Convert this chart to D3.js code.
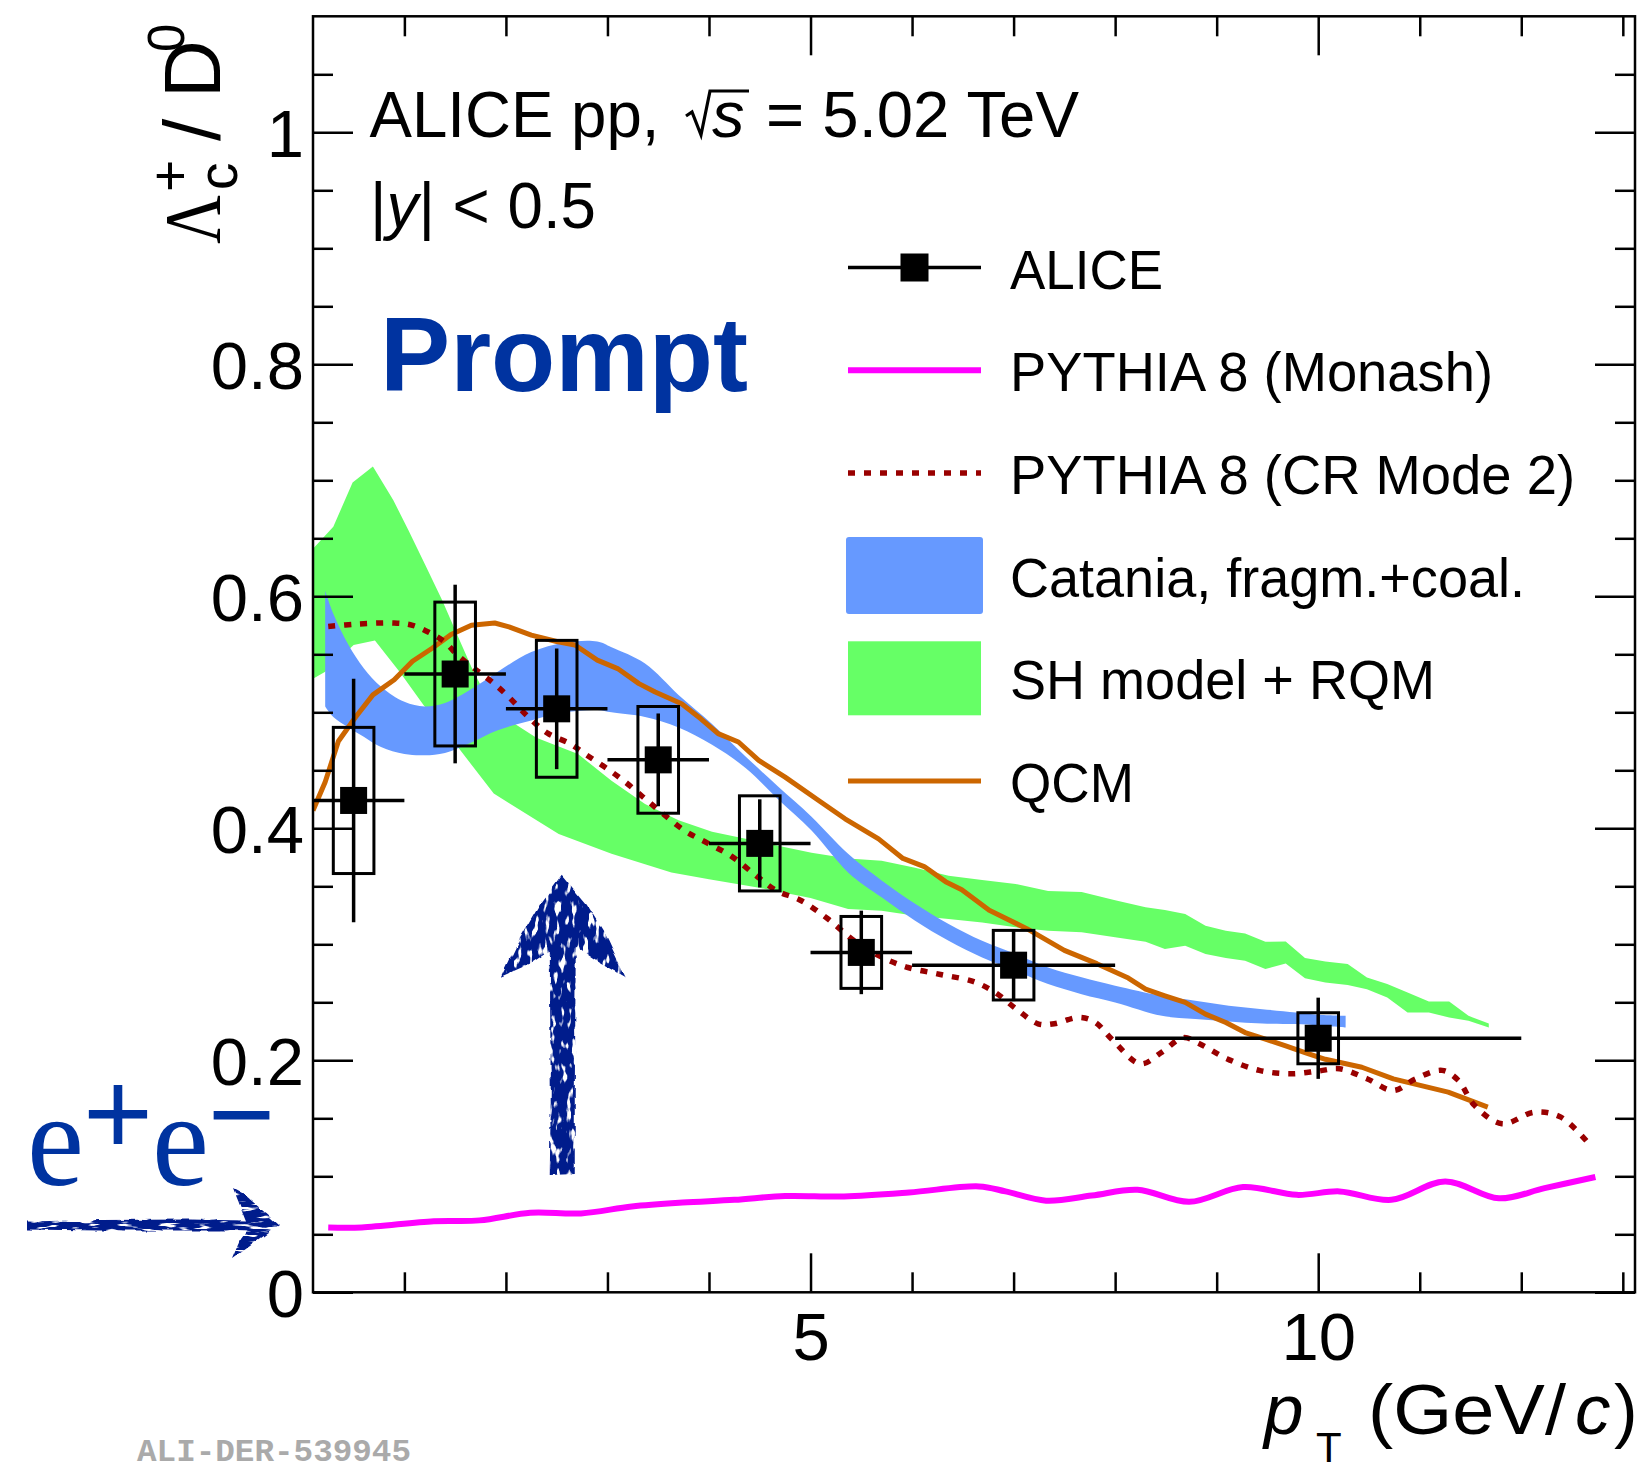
<!DOCTYPE html>
<html>
<head>
<meta charset="utf-8">
<script src="https://cdn.jsdelivr.net/npm/d3@7"></script>
<style>
html, body { margin: 0; padding: 0; background: #ffffff; }
svg { display: block; font-family: "Liberation Sans", Arial, Helvetica, sans-serif; }
</style>
</head>
<body>
<svg id="chart" width="1646" height="1470"></svg>
<script>
// ---- ALICE prompt Lambda_c+/D0, pp at 5.02 TeV ----
const ptCenter = [0.5, 1.5, 2.5, 3.5, 4.5, 5.5, 7, 10];
const ptLow    = [0, 1, 2, 3, 4, 5, 6, 8];
const ptHigh   = [1, 2, 3, 4, 5, 6, 8, 12];
const ratio    = [0.424, 0.533, 0.503, 0.459, 0.387, 0.293, 0.282, 0.219];
const statErr  = [0.105, 0.077, 0.052, 0.040, 0.038, 0.036, 0.031, 0.035];
const sysErr   = [0.063, 0.062, 0.059, 0.046, 0.041, 0.031, 0.030, 0.022];

// ---- PYTHIA 8 (Monash) ----
const monashPt    = [0.25, 0.58, 1.29, 1.74, 2.24, 2.74, 3.24, 3.74, 4.25, 4.75, 5.33, 5.97, 6.66, 6.92, 7.32, 7.77, 8.22, 8.73, 9.26, 9.79, 10.21, 10.72, 11.25, 11.78, 12.23, 12.73];
const monashRatio = [0.0559, 0.0559, 0.0613, 0.062, 0.0685, 0.068, 0.074, 0.0774, 0.0797, 0.0830, 0.0826, 0.086, 0.0913, 0.087, 0.079, 0.0834, 0.0884, 0.078, 0.0907, 0.084, 0.087, 0.0797, 0.0956, 0.081, 0.0898, 0.0994];

// ---- PYTHIA 8 (CR Mode 2) ----
const cr2Pt    = [0.25, 0.52, 0.9, 1.08, 1.24, 1.39, 1.54, 1.73, 1.88, 2.03, 2.22, 2.41, 2.63, 2.78, 2.97, 3.16, 3.35, 3.54, 3.76, 3.99, 4.22, 4.48, 4.67, 4.9, 5.17, 5.43, 5.7, 5.96, 6.28, 6.6, 6.81, 7.03, 7.24, 7.4, 7.64, 7.8, 7.98, 8.25, 8.46, 8.67, 8.83, 9.1, 9.42, 9.73, 10.0, 10.21, 10.48, 10.74, 10.96, 11.22, 11.38, 11.54, 11.81, 12.13, 12.39, 12.68];
const cr2Ratio = [0.574, 0.576, 0.577, 0.575, 0.569, 0.561, 0.548, 0.535, 0.525, 0.513, 0.496, 0.482, 0.473, 0.464, 0.453, 0.441, 0.427, 0.413, 0.398, 0.387, 0.376, 0.358, 0.346, 0.338, 0.322, 0.303, 0.289, 0.280, 0.274, 0.268, 0.259, 0.244, 0.2315, 0.2315, 0.237, 0.233, 0.217, 0.197, 0.207, 0.2195, 0.2143, 0.2014, 0.1913, 0.1884, 0.1907, 0.1927, 0.1841, 0.174, 0.1841, 0.1913, 0.1827, 0.1611, 0.1453, 0.1553, 0.151, 0.1267];

// ---- QCM ----
const qcmPt    = [0.1, 0.22, 0.35, 0.52, 0.69, 0.9, 1.08, 1.27, 1.46, 1.66, 1.89, 2.03, 2.25, 2.5, 2.68, 2.9, 3.1, 3.31, 3.47, 3.73, 3.92, 4.09, 4.29, 4.49, 4.75, 5.08, 5.34, 5.67, 5.91, 6.12, 6.33, 6.49, 6.76, 7.13, 7.5, 7.82, 8.13, 8.30, 8.49, 8.69, 8.89, 9.09, 9.28, 9.48, 9.68, 9.87, 10.07, 10.43, 10.74, 11.28, 11.67];
const qcmRatio = [0.4154, 0.440, 0.475, 0.496, 0.515, 0.528, 0.544, 0.555, 0.567, 0.575, 0.577, 0.5737, 0.5665, 0.561, 0.558, 0.545, 0.5377, 0.5247, 0.5175, 0.5074, 0.4944, 0.4816, 0.4744, 0.4585, 0.4441, 0.424, 0.4082, 0.3909, 0.374, 0.367, 0.354, 0.347, 0.3293, 0.3135, 0.2948, 0.2833, 0.2709, 0.2614, 0.2556, 0.2499, 0.2398, 0.2326, 0.2239, 0.2182, 0.2124, 0.2066, 0.2009, 0.194, 0.184, 0.1726, 0.1597];

// ---- Catania, fragmentation + coalescence (band) ----
const cataniaPt  = [0.22, 0.3, 0.45, 0.6, 0.77, 1.0, 1.2, 1.4, 1.66, 1.92, 2.25, 2.58, 2.9, 3.04, 3.37, 3.7, 4.03, 4.36, 4.68, 5.01, 5.37, 5.7, 6.03, 6.36, 6.69, 7.02, 7.34, 7.67, 8.0, 8.46, 8.79, 9.12, 9.45, 9.78, 10.0, 10.27];
const cataniaUp  = [0.605, 0.585, 0.558, 0.538, 0.522, 0.509, 0.505, 0.508, 0.520, 0.535, 0.552, 0.560, 0.561, 0.556, 0.542, 0.515, 0.490, 0.462, 0.436, 0.410, 0.378, 0.355, 0.335, 0.3175, 0.303, 0.2916, 0.280, 0.2715, 0.2643, 0.2556, 0.2513, 0.247, 0.2441, 0.2412, 0.2392, 0.2383];
const cataniaLow = [0.505, 0.496, 0.487, 0.479, 0.470, 0.464, 0.463, 0.465, 0.474, 0.4845, 0.493, 0.500, 0.502, 0.500, 0.496, 0.487, 0.472, 0.452, 0.425, 0.398, 0.362, 0.3405, 0.3204, 0.3031, 0.2887, 0.2772, 0.2657, 0.257, 0.2498, 0.2383, 0.2355, 0.2335, 0.2317, 0.2312, 0.2300, 0.2283];

// ---- SH model + RQM (band: upper and lower edges) ----
const shUpPt  = [0.1, 0.3, 0.49, 0.69, 0.89, 1.04, 1.2, 1.37, 1.53, 1.66, 1.8, 2.0, 2.3, 2.71, 3.04, 3.37, 3.7, 4.03, 4.36, 4.68, 5.01, 5.37, 5.7, 6.03, 6.36, 6.69, 7.02, 7.34, 7.67, 8.0, 8.30, 8.49, 8.69, 8.89, 9.09, 9.28, 9.48, 9.68, 9.87, 10.07, 10.29, 10.48, 10.68, 10.88, 11.09, 11.29, 11.48, 11.68];
const shUp    = [0.641, 0.660, 0.698, 0.712, 0.683, 0.657, 0.628, 0.597, 0.565, 0.539, 0.515, 0.495, 0.478, 0.464, 0.441, 0.421, 0.407, 0.397, 0.391, 0.385, 0.379, 0.374, 0.372, 0.366, 0.359, 0.3555, 0.352, 0.346, 0.345, 0.338, 0.332, 0.3296, 0.3261, 0.316, 0.3117, 0.3094, 0.3022, 0.3025, 0.2881, 0.2852, 0.283, 0.2714, 0.2657, 0.2585, 0.2507, 0.2507, 0.2383, 0.2317];
const shLowPt = [0.1, 0.22, 0.5, 0.71, 0.96, 1.19, 1.5, 1.88, 2.52, 3.04, 3.37, 3.63, 4.0, 4.48, 5.0, 5.37, 5.7, 6.03, 6.36, 6.69, 7.02, 7.34, 7.67, 8.0, 8.30, 8.49, 8.69, 8.89, 9.09, 9.28, 9.48, 9.68, 9.87, 10.07, 10.29, 10.48, 10.68, 10.88, 11.09, 11.29, 11.48, 11.68];
const shLow   = [0.529, 0.535, 0.558, 0.562, 0.534, 0.506, 0.473, 0.430, 0.395, 0.378, 0.369, 0.362, 0.356, 0.349, 0.340, 0.3305, 0.329, 0.3247, 0.3218, 0.3189, 0.3146, 0.3117, 0.3103, 0.306, 0.3022, 0.2959, 0.2988, 0.2916, 0.2881, 0.2858, 0.2786, 0.2835, 0.2708, 0.2671, 0.265, 0.2613, 0.2541, 0.2412, 0.2412, 0.2369, 0.234, 0.2283];

// ---- axis ticks ----
const xMajor  = [5, 10];
const xLabels = ["5", "10"];
const xMinor  = [1, 2, 3, 4, 6, 7, 8, 9, 11, 12, 13];
const yMajor  = [0, 0.2, 0.4, 0.6, 0.8, 1.0];
const yLabels = ["0", "0.2", "0.4", "0.6", "0.8", "1"];
const yMinor  = [0.05, 0.1, 0.15, 0.25, 0.3, 0.35, 0.45, 0.5, 0.55, 0.65, 0.7, 0.75, 0.85, 0.9, 0.95, 1.05];

// ---- legend ----
const legendLabels = ["ALICE", "PYTHIA 8 (Monash)", "PYTHIA 8 (CR Mode 2)", "Catania, fragm.+coal.", "SH model + RQM", "QCM"];
const legendWidths = [153, 483, 565, 515, 425, 124];

// e+e- reference value marked by the side arrow
const eeRatio = 0.058;

// ---------------------------------------------------------------
const svg = d3.select("#chart");
const frame = { left: 313, right: 1635, top: 16.3, bottom: 1292.3 };
const x = d3.scaleLinear().domain([0.1, 13.12]).range([frame.left, frame.right]);
const y = d3.scaleLinear().domain([0, 1.1]).range([frame.bottom, frame.top]);

const colors = {
  sh: "#66ff66", catania: "#6699ff", qcm: "#cc6600", cr2: "#990000",
  monash: "#ff00ff", prompt: "#0033a0", arrow: "#001a8c"
};
const serif = "'Liberation Serif', 'Times New Roman', serif";
const mono = "'Liberation Mono', 'Courier New', monospace";

const defs = svg.append("defs");
defs.append("clipPath").attr("id", "plotClip")
  .append("rect")
  .attr("x", frame.left).attr("y", frame.top)
  .attr("width", frame.right - frame.left).attr("height", frame.bottom - frame.top);

// hand-drawn marker texture for the annotation arrows
function markerFilter(id, freq, seed) {
  const f = defs.append("filter").attr("id", id)
    .attr("x", "-20%").attr("y", "-20%").attr("width", "140%").attr("height", "140%");
  f.append("feTurbulence").attr("type", "fractalNoise").attr("baseFrequency", "0.08")
    .attr("numOctaves", 2).attr("seed", seed).attr("result", "warp");
  f.append("feDisplacementMap").attr("in", "SourceGraphic").attr("in2", "warp")
    .attr("scale", 5).attr("xChannelSelector", "R").attr("yChannelSelector", "G").attr("result", "shape");
  f.append("feTurbulence").attr("type", "fractalNoise").attr("baseFrequency", freq)
    .attr("numOctaves", 2).attr("seed", seed + 7).attr("result", "grain");
  f.append("feColorMatrix").attr("in", "grain").attr("type", "matrix")
    .attr("values", "0 0 0 0 0  0 0 0 0 0  0 0 0 0 0  -9 0 0 0 6.1").attr("result", "mask");
  f.append("feComposite").attr("in", "shape").attr("in2", "mask").attr("operator", "in");
}
markerFilter("roughV", "0.18 0.07", 2);
markerFilter("roughH", "0.05 0.3", 5);

const plot = svg.append("g").attr("clip-path", "url(#plotClip)");

// SH model + RQM band
const shPoly = shUpPt.map((p, i) => [x(p), y(shUp[i])])
  .concat(shLowPt.map((p, i) => [x(p), y(shLow[i])]).reverse());
plot.append("path")
  .attr("d", d3.line()(shPoly) + "Z")
  .attr("fill", colors.sh).attr("stroke", "none");

// Catania band
const cataniaRows = cataniaPt.map((p, i) => ({ pt: p, up: cataniaUp[i], lo: cataniaLow[i] }));
plot.append("path")
  .datum(cataniaRows)
  .attr("d", d3.area().x(d => x(d.pt)).y0(d => y(d.lo)).y1(d => y(d.up))
    .curve(d3.curveCatmullRom.alpha(0.5)))
  .attr("fill", colors.catania).attr("stroke", "none");

// QCM
plot.append("path")
  .datum(qcmPt.map((p, i) => [x(p), y(qcmRatio[i])]))
  .attr("d", d3.line())
  .attr("fill", "none").attr("stroke", colors.qcm).attr("stroke-width", 5)
  .attr("stroke-linejoin", "round");

// PYTHIA CR Mode 2
plot.append("path")
  .datum(cr2Pt.map((p, i) => [x(p), y(cr2Ratio[i])]))
  .attr("d", d3.line().curve(d3.curveCatmullRom.alpha(0.5)))
  .attr("fill", "none").attr("stroke", colors.cr2).attr("stroke-width", 5.5)
  .attr("stroke-dasharray", "7,9");

// PYTHIA Monash
plot.append("path")
  .datum(monashPt.map((p, i) => [x(p), y(monashRatio[i])]))
  .attr("d", d3.line().curve(d3.curveCatmullRom.alpha(0.5)))
  .attr("fill", "none").attr("stroke", colors.monash).attr("stroke-width", 6)
  .attr("stroke-linejoin", "round");

// ALICE data: systematic boxes, stat bars, bin widths, markers
const data = ptCenter.map((p, i) => ({
  pt: p, lo: ptLow[i], hi: ptHigh[i], v: ratio[i], st: statErr[i], sy: sysErr[i]
}));
const dg = plot.append("g");
const boxHalf = 0.2;
dg.selectAll("rect.sys").data(data).join("rect").attr("class", "sys")
  .attr("x", d => x(d.pt - boxHalf)).attr("width", d => x(d.pt + boxHalf) - x(d.pt - boxHalf))
  .attr("y", d => y(d.v + d.sy)).attr("height", d => y(d.v - d.sy) - y(d.v + d.sy))
  .attr("fill", "none").attr("stroke", "#000").attr("stroke-width", 3);
dg.selectAll("line.stat").data(data).join("line").attr("class", "stat")
  .attr("x1", d => x(d.pt)).attr("x2", d => x(d.pt))
  .attr("y1", d => y(d.v + d.st)).attr("y2", d => y(d.v - d.st))
  .attr("stroke", "#000").attr("stroke-width", 3.5);
dg.selectAll("line.bin").data(data).join("line").attr("class", "bin")
  .attr("x1", d => x(d.lo)).attr("x2", d => x(d.hi))
  .attr("y1", d => y(d.v)).attr("y2", d => y(d.v))
  .attr("stroke", "#000").attr("stroke-width", 3.5);
const msz = 27;
dg.selectAll("rect.mk").data(data).join("rect").attr("class", "mk")
  .attr("x", d => x(d.pt) - msz / 2).attr("y", d => y(d.v) - msz / 2)
  .attr("width", msz).attr("height", msz).attr("fill", "#000");

// ---- frame and axes ----
function styleAxis(g) {
  g.select(".domain").remove();
  g.selectAll(".tick line").attr("stroke", "#000").attr("stroke-width", 2.5);
  g.attr("font-family", null).attr("font-size", null);
}
const majorLen = 39, minorLen = 20;

const gxB = svg.append("g").attr("transform", `translate(0,${frame.bottom})`)
  .call(d3.axisBottom(x).tickValues(xMajor).tickSize(-majorLen).tickFormat((d, i) => xLabels[i]));
styleAxis(gxB);
gxB.selectAll(".tick text").attr("y", 68).attr("dy", null)
  .attr("font-size", 67).attr("fill", "#000");
svg.append("g").attr("transform", `translate(0,${frame.bottom})`)
  .call(d3.axisBottom(x).tickValues(xMinor).tickSize(-minorLen).tickFormat(""))
  .call(styleAxis);
svg.append("g").attr("transform", `translate(0,${frame.top})`)
  .call(d3.axisTop(x).tickValues(xMajor).tickSize(-majorLen).tickFormat(""))
  .call(styleAxis);
svg.append("g").attr("transform", `translate(0,${frame.top})`)
  .call(d3.axisTop(x).tickValues(xMinor).tickSize(-minorLen).tickFormat(""))
  .call(styleAxis);

const gyL = svg.append("g").attr("transform", `translate(${frame.left},0)`)
  .call(d3.axisLeft(y).tickValues(yMajor).tickSize(-40).tickFormat((d, i) => yLabels[i]));
styleAxis(gyL);
gyL.selectAll(".tick text").attr("x", -9).attr("dy", "0.36em")
  .attr("font-size", 67).attr("fill", "#000");
svg.append("g").attr("transform", `translate(${frame.left},0)`)
  .call(d3.axisLeft(y).tickValues(yMinor).tickSize(-minorLen).tickFormat(""))
  .call(styleAxis);
svg.append("g").attr("transform", `translate(${frame.right},0)`)
  .call(d3.axisRight(y).tickValues(yMajor).tickSize(-40).tickFormat(""))
  .call(styleAxis);
svg.append("g").attr("transform", `translate(${frame.right},0)`)
  .call(d3.axisRight(y).tickValues(yMinor).tickSize(-minorLen).tickFormat(""))
  .call(styleAxis);

svg.append("rect")
  .attr("x", frame.left).attr("y", frame.top)
  .attr("width", frame.right - frame.left).attr("height", frame.bottom - frame.top)
  .attr("fill", "none").attr("stroke", "#000").attr("stroke-width", 2.5);

// ---- text helpers ----
function txt(parent, str, px, py, size, opts = {}) {
  const t = parent.append("text").attr("x", px).attr("y", py)
    .attr("font-size", size).attr("fill", opts.fill || "#000").text(str);
  if (opts.family) t.style("font-family", opts.family);
  if (opts.italic) t.attr("font-style", "italic");
  if (opts.bold) t.attr("font-weight", "bold");
  if (opts.anchor) t.attr("text-anchor", opts.anchor);
  if (opts.len) t.attr("textLength", opts.len).attr("lengthAdjust", "spacingAndGlyphs");
  return t;
}

// x-axis title: p_T (GeV/c)
txt(svg, "p", 1264, 1434, 71, { italic: true });
txt(svg, "T", 1316, 1462, 42);
txt(svg, "(GeV/", 1368, 1434, 71, { len: 198 });
txt(svg, "c", 1575, 1434, 71, { italic: true });
txt(svg, ")", 1614, 1434, 71);

// y-axis title: Lambda_c^+ / D^0 (reads bottom to top)
const yt = svg.append("g").attr("transform", "translate(220,243) rotate(-90)");
txt(yt, "\u039B", -1, 0, 80, { family: serif, len: 49 });
txt(yt, "c", 53, 17, 55);
txt(yt, "+", 51, -31, 55);
txt(yt, "/", 102, 0, 80);
txt(yt, "D", 145, 0, 80);
txt(yt, "0", 191, -36, 51);

// header
txt(svg, "ALICE pp,", 369.5, 136.5, 65, { len: 290 });
svg.append("path")
  .attr("d", "M686,116 L692,112 L701,135 L710,91 L749,91")
  .attr("fill", "none").attr("stroke", "#000").attr("stroke-width", 3.2)
  .attr("stroke-linejoin", "miter");
txt(svg, "s", 712, 136.5, 65, { italic: true });
txt(svg, "= 5.02 TeV", 766, 136.5, 65, { len: 313 });

const yy = txt(svg, "", 370, 227.5, 65);
yy.append("tspan").text("|");
yy.append("tspan").attr("font-style", "italic").text("y");
yy.append("tspan").text("| < 0.5");
yy.attr("textLength", 226).attr("lengthAdjust", "spacingAndGlyphs");

txt(svg, "Prompt", 380, 391, 106, { bold: true, fill: colors.prompt, len: 368 });

// ---- legend ----
const legX0 = 848, legX1 = 981, legText = 1010, legY0 = 267.5, legStep = 102.7;
const lg = svg.append("g");
legendLabels.forEach((lab, i) => {
  const cy = legY0 + i * legStep;
  txt(lg, lab, legText, cy + 21, 55, { len: legendWidths[i] });
});
// ALICE entry
lg.append("line").attr("x1", legX0).attr("x2", legX1).attr("y1", legY0).attr("y2", legY0)
  .attr("stroke", "#000").attr("stroke-width", 3.5);
lg.append("rect").attr("x", (legX0 + legX1) / 2 - 14).attr("y", legY0 - 14)
  .attr("width", 28).attr("height", 28).attr("fill", "#000");
// Monash
lg.append("line").attr("x1", legX0).attr("x2", legX1)
  .attr("y1", legY0 + legStep).attr("y2", legY0 + legStep)
  .attr("stroke", colors.monash).attr("stroke-width", 6);
// CR Mode 2
lg.append("line").attr("x1", legX0).attr("x2", legX1)
  .attr("y1", legY0 + 2 * legStep).attr("y2", legY0 + 2 * legStep)
  .attr("stroke", colors.cr2).attr("stroke-width", 5.5).attr("stroke-dasharray", "7,9");
// Catania box
lg.append("rect").attr("x", legX0 - 2).attr("y", legY0 + 3 * legStep - 38.5)
  .attr("width", legX1 - legX0 + 4).attr("height", 77).attr("rx", 3)
  .attr("fill", colors.catania);
// SH box
lg.append("rect").attr("x", legX0).attr("y", legY0 + 4 * legStep - 37)
  .attr("width", legX1 - legX0).attr("height", 74)
  .attr("fill", colors.sh);
// QCM
lg.append("line").attr("x1", legX0).attr("x2", legX1)
  .attr("y1", legY0 + 5 * legStep).attr("y2", legY0 + 5 * legStep)
  .attr("stroke", colors.qcm).attr("stroke-width", 5);

// ---- e+e- annotation with arrow pointing at the axis ----
txt(svg, "e", 27, 1185, 134, { family: serif, fill: colors.prompt, len: 57 });
txt(svg, "+", 83, 1155, 120, { fill: colors.prompt, len: 70 });
txt(svg, "e", 152, 1185, 134, { family: serif, fill: colors.prompt, len: 57 });
txt(svg, "\u2212", 208, 1155, 120, { fill: colors.prompt, len: 67 });

const eeY = y(eeRatio);
const sideArrow = [
  [27, eeY - 3.5], [100, eeY - 5], [190, eeY - 5.5], [246, eeY - 4.5], [233, eeY - 37],
  [244, eeY - 31], [279, eeY], [232, eeY + 34], [240, eeY + 15], [247, eeY + 5.5],
  [190, eeY + 5.5], [100, eeY + 5.5], [27, eeY + 4.5]
];
svg.append("path").attr("d", d3.line()(sideArrow) + "Z")
  .attr("fill", colors.arrow).attr("filter", "url(#roughH)");

// ---- upward arrow under the data ----
const ax = x(2.55), aTop = y(0.36), aBot = y(0.102);
const upArrow = [
  [ax, aTop], [ax + 25, aTop + 30], [ax + 45, aTop + 62], [ax + 64, aTop + 103],
  [ax + 38, aTop + 88], [ax + 14, aTop + 72], [ax + 13, aBot - 80], [ax + 13, aBot],
  [ax - 12, aBot + 1], [ax - 11, aBot - 80], [ax - 12, aTop + 76], [ax - 33, aTop + 90],
  [ax - 60, aTop + 102], [ax - 42, aTop + 64], [ax - 22, aTop + 30]
];
svg.append("path").attr("d", d3.line()(upArrow) + "Z")
  .attr("fill", colors.arrow).attr("filter", "url(#roughV)");

// figure identifier
txt(svg, "ALI-DER-539945", 137, 1461, 31,
  { family: mono, bold: true, fill: "#aaaaaa", len: 274 });
</script>
</body>
</html>
